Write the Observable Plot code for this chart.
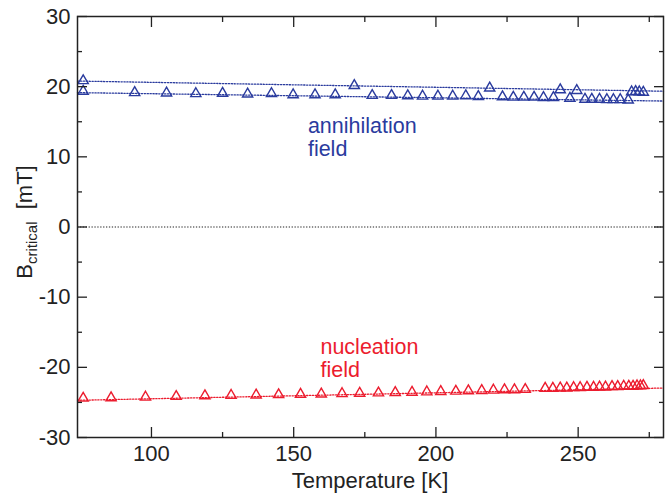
<!DOCTYPE html>
<html>
<head>
<meta charset="utf-8">
<script src="https://cdn.jsdelivr.net/npm/d3@7"></script>
<script src="https://cdn.jsdelivr.net/npm/@observablehq/plot@0.6"></script>
<style>
  html, body { margin: 0; padding: 0; background: white; }
  #chart { width: 670px; height: 495px; }
</style>
</head>
<body>
<div id="chart"></div>
<script>
// ---- data ----
// annihilation field, upper branch (K, mT)
const annUpperT = [76, 171.3, 218.9, 243.7, 249.5, 268.8, 270.2, 271.5, 272.9];
const annUpperB = [20.85, 20.15, 19.8, 19.55, 19.45, 19.25, 19.3, 19.25, 19.2];
// annihilation field, lower branch
const annLowerT = [76, 94.1, 105.3, 115.6, 125, 133.8, 142.2, 149.8, 157.5, 164.6,
  177.6, 184.4, 190.1, 195.3, 200.7, 205.9, 210.5, 214.9, 223.4, 227.2, 230.9, 234.5,
  237.8, 241.3, 247.1, 252.4, 254.8, 257.5, 260.1, 262.4, 264.8, 267.6];
const annLowerB = [19.35, 19.15, 19.1, 19.0, 19.05, 18.95, 19.0, 18.85, 18.85, 18.85,
  18.75, 18.75, 18.7, 18.65, 18.65, 18.65, 18.7, 18.6, 18.55, 18.5, 18.5, 18.5,
  18.45, 18.45, 18.35, 18.2, 18.2, 18.2, 18.15, 18.15, 18.15, 18.1];
// nucleation field
const nucT = [76, 85.8, 97.9, 108.7, 118.8, 128, 136.8, 144.7, 152.4, 159.7, 167, 173.2,
  179.8, 185.7, 191.6, 196.8, 201.7, 207, 211.4, 216.1, 220.2, 224.1, 227.6, 231.4,
  238.4, 241.1, 243.7, 246, 248.4, 250.7, 253.1, 255.4, 257.5, 259.6, 261.9, 263.9,
  266, 267.8, 269.3, 270.7, 271.9, 272.9];
const nucB = [-24.4, -24.35, -24.25, -24.15, -24.05, -24.0, -23.95, -23.9, -23.85, -23.8, -23.75, -23.7,
  -23.65, -23.6, -23.55, -23.5, -23.45, -23.4, -23.35, -23.3, -23.25, -23.2, -23.2, -23.15,
  -23.0, -23.0, -22.95, -22.95, -22.9, -22.9, -22.85, -22.85, -22.8, -22.8, -22.75, -22.75,
  -22.7, -22.7, -22.7, -22.65, -22.65, -22.6];
// dotted fit lines (end points)
const fitT = [74, 280];
const annUpperFit = [20.8, 19.35];
const annLowerFit = [19.15, 17.95];
const nucFit = [-24.7, -22.95];
const zeroLine = [0];

// annotation labels
const annLabel = ["annihilation", "field"];
const nucLabel = ["nucleation", "field"];

// axes
const xDomain = [74, 280];
const yDomain = [-30, 30];
const xMajor = [100, 150, 200, 250];
const xMinor = [125, 175, 225, 275];
const yMajor = [-30, -20, -10, 0, 10, 20, 30];
const yMinor = [-25, -15, -5, 5, 15, 25];

const blue = "#2a3b9e";
const red = "#ec1c2e";
const font = "'Liberation Sans', Arial, Helvetica, sans-serif";

const pts = (T, B) => T.map((t, i) => ({t, b: B[i]}));
const annUpper = pts(annUpperT, annUpperB);
const annLower = pts(annLowerT, annLowerB);
const nuc = pts(nucT, nucB);
const fit = (B) => fitT.map((t, i) => ({t, b: B[i]}));

const dash = "1.3,1.6";
const noText = () => "";

const chart = Plot.plot({
  width: 670,
  height: 495,
  marginLeft: 77,
  marginRight: 7,
  marginTop: 16,
  marginBottom: 58,
  style: {fontFamily: font, fontSize: "22px", background: "white", color: "#222"},
  x: {domain: xDomain},
  y: {domain: yDomain},
  marks: [
    // zero line
    Plot.ruleY(zeroLine, {stroke: "#222", strokeWidth: 1.2, strokeDasharray: dash}),
    // fit lines
    Plot.line(fit(annUpperFit), {x: "t", y: "b", stroke: blue, strokeWidth: 1.3, strokeDasharray: dash}),
    Plot.line(fit(annLowerFit), {x: "t", y: "b", stroke: blue, strokeWidth: 1.3, strokeDasharray: dash}),
    Plot.line(fit(nucFit), {x: "t", y: "b", stroke: red, strokeWidth: 1.3, strokeDasharray: dash}),
    // data
    Plot.dot(annUpper, {x: "t", y: "b", symbol: "triangle", r: 3.8, stroke: blue, strokeWidth: 1.4, fill: "none"}),
    Plot.dot(annLower, {x: "t", y: "b", symbol: "triangle", r: 3.8, stroke: blue, strokeWidth: 1.4, fill: "none"}),
    Plot.dot(nuc, {x: "t", y: "b", symbol: "triangle", r: 3.8, stroke: red, strokeWidth: 1.4, fill: "none"}),
    // annotations
    Plot.text(annLabel, {x: 155, y: [14.4, 11.1], text: d => d, fill: blue, textAnchor: "start", fontSize: 21.5}),
    Plot.text(nucLabel, {x: 159.4, y: [-17.15, -20.45], text: d => d, fill: red, textAnchor: "start", fontSize: 21.5}),
    // ticks (inward, mirrored)
    Plot.axisX({ticks: xMajor, anchor: "bottom", tickSize: -10, tickFormat: noText, label: null, strokeWidth: 1.3}),
    Plot.axisX({ticks: xMinor, anchor: "bottom", tickSize: -5, tickFormat: noText, label: null, strokeWidth: 1.3}),
    Plot.axisX({ticks: xMajor, anchor: "top", tickSize: -10, tickFormat: noText, label: null, strokeWidth: 1.3}),
    Plot.axisX({ticks: xMinor, anchor: "top", tickSize: -5, tickFormat: noText, label: null, strokeWidth: 1.3}),
    Plot.axisY({ticks: yMajor, anchor: "left", tickSize: -10, tickFormat: noText, label: null, strokeWidth: 1.3}),
    Plot.axisY({ticks: yMinor, anchor: "left", tickSize: -5, tickFormat: noText, label: null, strokeWidth: 1.3}),
    Plot.axisY({ticks: yMajor, anchor: "right", tickSize: -10, tickFormat: noText, label: null, strokeWidth: 1.3}),
    Plot.axisY({ticks: yMinor, anchor: "right", tickSize: -5, tickFormat: noText, label: null, strokeWidth: 1.3}),
    // tick labels
    Plot.axisX({ticks: xMajor, anchor: "bottom", tickSize: 0, tickPadding: 8, tickFormat: d => String(d), label: null, fill: "#222"}),
    Plot.axisY({ticks: yMajor, anchor: "left", tickSize: 0, tickPadding: 7, tickFormat: d => String(d), label: null, fill: "#222"}),
    Plot.frame({stroke: "#222", strokeWidth: 1.5})
  ]
});

document.getElementById("chart").appendChild(chart);

// axis titles
const svg = d3.select(chart);
svg.append("text")
  .attr("x", 370).attr("y", 488)
  .attr("text-anchor", "middle")
  .attr("font-family", font).attr("font-size", 22).attr("fill", "#222")
  .text("Temperature [K]");
const yl = svg.append("text")
  .attr("transform", "translate(32,222) rotate(-90)")
  .attr("text-anchor", "middle")
  .attr("font-family", font).attr("font-size", 22).attr("fill", "#222");
yl.append("tspan").text("B");
yl.append("tspan").attr("font-size", 15).attr("dy", 5).text("critical");
yl.append("tspan").attr("dy", -5).text("\u00a0 [mT]");
</script>
</body>
</html>
